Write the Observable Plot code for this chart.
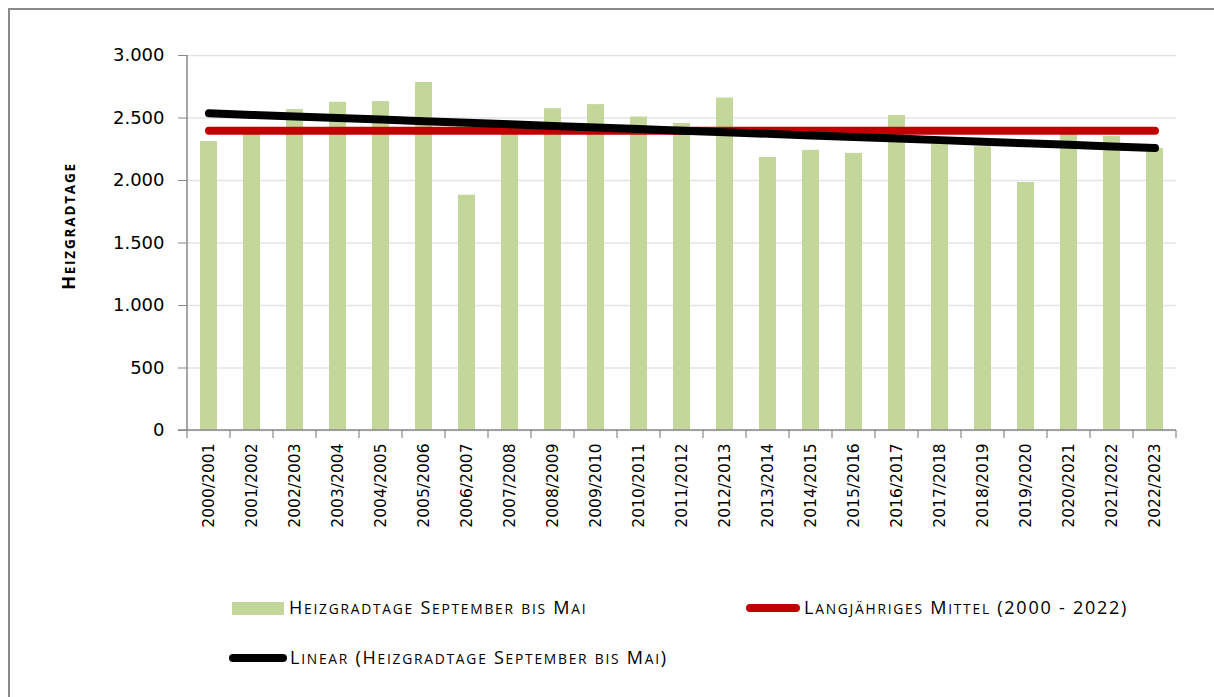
<!DOCTYPE html>
<html>
<head>
<meta charset="utf-8">
<script src="https://cdn.jsdelivr.net/npm/d3@7"></script>
<script src="https://cdn.jsdelivr.net/npm/@observablehq/plot@0.6"></script>
<style>
html, body { margin: 0; padding: 0; background: #fff; width: 1214px; height: 697px; overflow: hidden; }
#frame { position: absolute; left: 8px; top: 8px; width: 1400px; height: 900px; border: 2px solid #898989; box-sizing: border-box; }
#chart { position: absolute; left: 0; top: 0; }
.leg { position: absolute; font-family: "Open Sans", sans-serif; font-size: 18px; letter-spacing: 1.75px; color: #000; white-space: nowrap; line-height: 1; }
.leg .sc { font-size: 13.8px; text-transform: uppercase; }
.sw { position: absolute; }
</style>
</head>
<body>
<div id="frame"></div>
<div id="chart"></div>
<div id="legend"></div>
<script>
// ---- data ----
const seasons = ["2000/2001","2001/2002","2002/2003","2003/2004","2004/2005","2005/2006","2006/2007","2007/2008","2008/2009","2009/2010","2010/2011","2011/2012","2012/2013","2013/2014","2014/2015","2015/2016","2016/2017","2017/2018","2018/2019","2019/2020","2020/2021","2021/2022","2022/2023"];
const heizgradtage = [2311,2420,2567,2626,2631,2784,1882,2430,2575,2607,2508,2457,2660,2185,2241,2217,2519,2287,2270,1984,2400,2353,2257];
const yTicks = [0,500,1000,1500,2000,2500,3000];
const yLabel = "Heizgradtage";
const seriesBars = "Heizgradtage September bis Mai";
const seriesMean = "Langjähriges Mittel (2000 - 2022)";
const seriesTrend = "Linear (Heizgradtage September bis Mai)";

// ---- derived ----
const data = seasons.map((s, i) => ({season: s, value: heizgradtage[i], i}));
const meanValue = d3.mean(heizgradtage);
const n = heizgradtage.length;
const xm = (n - 1) / 2, ym = meanValue;
const slope = d3.sum(data, d => (d.i - xm) * (d.value - ym)) / d3.sum(data, d => (d.i - xm) ** 2);
const intercept = ym - slope * xm;
const meanLine = data.map(d => ({season: d.season, value: meanValue}));
const trendLine = data.map(d => ({season: d.season, value: intercept + slope * d.i}));

// split a string into runs of "big" (uppercase / non-letter) and "small" (lowercase) characters
function smallCapsRuns(text) {
  const runs = [];
  for (const ch of text) {
    const small = ch !== ch.toUpperCase();
    if (runs.length && runs[runs.length - 1].small === small) runs[runs.length - 1].text += ch;
    else runs.push({text: ch, small});
  }
  return runs;
}

const W = 1214, H = 580, ML = 187, MR = 38, MT = 55, MB = 150;
const axisColor = "#898989";

const frameAxes = (index, scales, values, dim) => {
  const g = d3.create("svg:g");
  const x0 = dim.marginLeft, x1 = dim.width - dim.marginRight;
  const y0 = dim.marginTop, y1 = dim.height - dim.marginBottom;
  const step = (x1 - x0) / seasons.length;
  g.append("line").attr("x1", x0).attr("x2", x0).attr("y1", y0).attr("y2", y1).attr("stroke", axisColor).attr("stroke-width", 1.5);
  g.append("line").attr("x1", x0 - 9).attr("x2", x1).attr("y1", y1).attr("y2", y1).attr("stroke", axisColor).attr("stroke-width", 1.5);
  for (let i = 0; i <= seasons.length; i++) {
    g.append("line").attr("x1", x0 + i * step).attr("x2", x0 + i * step).attr("y1", y1).attr("y2", y1 + 8).attr("stroke", axisColor).attr("stroke-width", 1.2);
  }
  return g.node();
};

const chart = Plot.plot({
  width: W, height: H,
  marginLeft: ML, marginRight: MR, marginTop: MT, marginBottom: MB,
  style: {fontFamily: "'DejaVu Sans', Verdana, sans-serif", fontSize: "18px", color: "#000", background: "transparent"},
  x: {domain: seasons, paddingInner: 0.61, paddingOuter: 0.305, label: null},
  y: {domain: [0, 3000], label: null},
  marks: [
    Plot.gridY(yTicks, {stroke: "#e4e4e4", strokeOpacity: 1, strokeWidth: 1.3}),
    Plot.barY(data, {x: "season", y: "value", fill: "#c4d79b"}),
    Plot.line(meanLine, {x: "season", y: "value", stroke: "#c00000", strokeWidth: 8, strokeLinecap: "round"}),
    Plot.line(trendLine, {x: "season", y: "value", stroke: "#000", strokeWidth: 8, strokeLinecap: "round"}),
    frameAxes,
    Plot.axisY({ticks: yTicks, tickSize: 9, tickPadding: 14, stroke: axisColor, tickFormat: d => d3.format(",")(d).replace(/,/g, "."), label: null}),
    Plot.axisX({tickSize: 0, tickRotate: -90, tickPadding: 13, fontSize: 15.5, label: null}),
    Plot.text([yLabel], {frameAnchor: "left", textAnchor: "middle", rotate: -90, dx: -118, dy: -17, fontFamily: "'Open Sans', sans-serif", fontWeight: "bold", fontSize: 17, fill: "#000"})
  ]
});
// render the y label in small caps with tspans
d3.select(chart).selectAll("text").filter(function() { return this.textContent === yLabel; }).each(function() {
  const t = d3.select(this);
  t.text(null).style("letter-spacing", "1.8px");
  for (const r of smallCapsRuns(yLabel)) {
    t.append("tspan").style("font-size", (r.small ? 13.5 : 18) + "px").text(r.small ? r.text.toUpperCase() : r.text);
  }
});
document.getElementById("chart").appendChild(chart);

// ---- legend (HTML, below the SVG) ----
const legend = document.getElementById("legend");
function item(sw, text, left, top) {
  const s = document.createElement("div");
  s.className = "sw";
  Object.assign(s.style, sw);
  legend.appendChild(s);
  const t = document.createElement("div");
  t.className = "leg";
  for (const r of smallCapsRuns(text)) {
    const span = document.createElement("span");
    if (r.small) span.className = "sc";
    span.textContent = r.text;
    t.appendChild(span);
  }
  t.style.left = left + "px";
  t.style.top = top + "px";
  legend.appendChild(t);
}
item({left: "232px", top: "602px", width: "52px", height: "13px", background: "#c4d79b"}, seriesBars, 289, 598);
item({left: "746px", top: "604px", width: "54px", height: "8px", background: "#c00000", borderRadius: "4px"}, seriesMean, 804, 598);
item({left: "229px", top: "654px", width: "58px", height: "8px", background: "#000", borderRadius: "4px"}, seriesTrend, 290, 648);
</script>
</body>
</html>
